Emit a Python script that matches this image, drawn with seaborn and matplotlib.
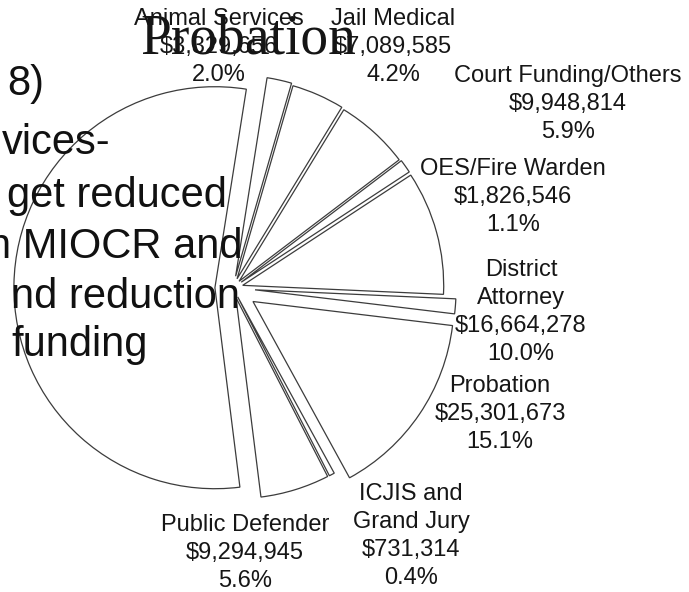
import seaborn as sns
import matplotlib.pyplot as plt

# fatias do orçamento, no sentido horário a partir do topo
departamentos = ['Animal Services', 'Jail Medical', 'Court Funding/Others', 'OES/Fire Warden',
                 'District\nAttorney', '', 'Probation', 'ICJIS and\nGrand Jury', 'Public Defender', '']
valores = [3329656, 7089585, 9948814, 1826546, 16664278, 2000000, 25301673, 731314, 9294945, 91200000]
porcentagens = ['2.0%', '4.2%', '5.9%', '1.1%', '10.0%', '', '15.1%', '0.4%', '5.6%', '']

# texto do slide que ficou por trás do gráfico (cortado à esquerda)
texto_slide = ['8)', 'vices-', 'get reduced', 'n MIOCR and', 'nd reduction', 'funding']
titulo = 'Probation'

sns.set_style('white')
plt.rcParams['font.family'] = ['Liberation Sans', 'DejaVu Sans']

fig = plt.figure(figsize=(6.89, 5.92), dpi=100)
ax = fig.add_axes([0, 0, 1, 1])
H = 592

# posições dos rótulos (pixels, centro do bloco)
pos_rotulos = [(219, 47), (393, 47), (568, 104), (513, 197), (521, 312),
               None, (500, 414), (411, 536), (245, 553)]
afastamento = [0.06, 0.05, 0.045, 0.05, 0.05, 0.11, 0.12, 0.05, 0.05, 0.09]

ax.pie(valores, center=(233, H - 288), radius=201, startangle=81, counterclock=False,
       explode=[e * 201 for e in afastamento],
       wedgeprops={'facecolor': 'white', 'edgecolor': '#3c3c3c', 'linewidth': 0.9})

for nome, v, p, pos in zip(departamentos, valores, porcentagens, pos_rotulos):
    if pos is None or nome == '':
        continue
    ax.text(pos[0], H - pos[1], f'{nome}\n${v:,}\n{p}', ha='center', va='center',
            fontsize=17, linespacing=1.34, color='#161616')

# texto do slide
direita = [44, 110, 227, 242, 240, 148]
base = [95, 154, 207, 258, 308, 356]
for t, x, y in zip(texto_slide, direita, base):
    ax.text(x, H - y, t, ha='right', va='baseline', fontsize=30, color='#111111')

ax.text(248, H - 54, titulo, ha='center', va='baseline', fontsize=40, color='#151515',
        family=['Liberation Serif', 'DejaVu Serif'])

ax.set_xlim(0, 689)
ax.set_ylim(0, H)
ax.axis('off')

plt.savefig('out.png', dpi=100, facecolor='white')
